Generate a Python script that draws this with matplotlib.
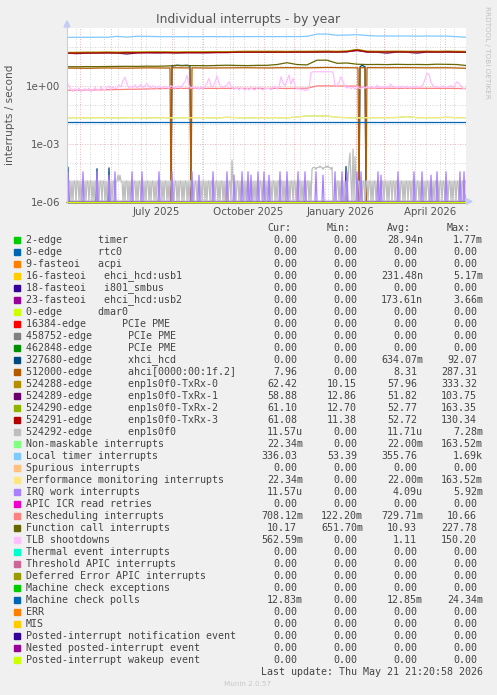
import numpy as np
import matplotlib
matplotlib.use("Agg")
import matplotlib.pyplot as plt
from matplotlib.patches import Polygon, Rectangle
from matplotlib.lines import Line2D
from matplotlib.ticker import NullLocator

W, H = 497, 695
start = np.datetime64("2025-04-18")
ndays = 400

# ---------------- legend table ----------------
labels = [
    "2-edge      timer", "8-edge      rtc0", "9-fasteoi   acpi",
    "16-fasteoi   ehci_hcd:usb1", "18-fasteoi   i801_smbus",
    "23-fasteoi   ehci_hcd:usb2", "0-edge      dmar0",
    "16384-edge      PCIe PME", "458752-edge      PCIe PME",
    "462848-edge      PCIe PME", "327680-edge      xhci_hcd",
    "512000-edge      ahci[0000:00:1f.2]",
    "524288-edge      enp1s0f0-TxRx-0", "524289-edge      enp1s0f0-TxRx-1",
    "524290-edge      enp1s0f0-TxRx-2", "524291-edge      enp1s0f0-TxRx-3",
    "524292-edge      enp1s0f0", "Non-maskable interrupts",
    "Local timer interrupts", "Spurious interrupts",
    "Performance monitoring interrupts", "IRQ work interrupts",
    "APIC ICR read retries", "Rescheduling interrupts",
    "Function call interrupts", "TLB shootdowns",
    "Thermal event interrupts", "Threshold APIC interrupts",
    "Deferred Error APIC interrupts", "Machine check exceptions",
    "Machine check polls", "ERR", "MIS",
    "Posted-interrupt notification event", "Nested posted-interrupt event",
    "Posted-interrupt wakeup event",
]
colors = [
    "#00CC00", "#0066B3", "#FF8000", "#FFCC00", "#330099", "#990099",
    "#CCFF00", "#FF0000", "#808080", "#008F00", "#00487D", "#B35A00",
    "#B38F00", "#6B006B", "#8FB300", "#B30000", "#BEBEBE", "#80FF80",
    "#80C9FF", "#FFC080", "#FFE680", "#AA80FF", "#EE00CC", "#FF8080",
    "#666600", "#FFBFFF", "#00FFCC", "#CC6699", "#999900", "#00CC00",
    "#0066B3", "#FF8000", "#FFCC00", "#330099", "#990099", "#CCFF00",
]
cur = ["0.00", "0.00", "0.00", "0.00", "0.00", "0.00", "0.00", "0.00", "0.00",
       "0.00", "0.00", "7.96", "62.42", "58.88", "61.10", "61.08", "11.57u",
       "22.34m", "336.03", "0.00", "22.34m", "11.57u", "0.00", "708.12m",
       "10.17", "562.59m", "0.00", "0.00", "0.00", "0.00", "12.83m", "0.00",
       "0.00", "0.00", "0.00", "0.00"]
mins = ["0.00", "0.00", "0.00", "0.00", "0.00", "0.00", "0.00", "0.00", "0.00",
        "0.00", "0.00", "0.00", "10.15", "12.86", "12.70", "11.38", "0.00",
        "0.00", "53.39", "0.00", "0.00", "0.00", "0.00", "122.20m",
        "651.70m", "0.00", "0.00", "0.00", "0.00", "0.00", "0.00", "0.00",
        "0.00", "0.00", "0.00", "0.00"]
avgs = ["28.94n", "0.00", "0.00", "231.48n", "0.00", "173.61n", "0.00", "0.00",
        "0.00", "0.00", "634.07m", "8.31", "57.96", "51.82", "52.77", "52.72",
        "11.71u", "22.00m", "355.76", "0.00", "22.00m", "4.09u", "0.00",
        "729.71m", "10.93", "1.11", "0.00", "0.00", "0.00", "0.00", "12.85m",
        "0.00", "0.00", "0.00", "0.00", "0.00"]
maxs = ["1.77m", "0.00", "0.00", "5.17m", "0.00", "3.66m", "0.00", "0.00",
        "0.00", "0.00", "92.07", "287.31", "333.32", "103.75", "163.35",
        "130.34", "7.28m", "163.52m", "1.69k", "0.00", "163.52m", "5.92m",
        "0.00", "10.66", "227.78", "150.20", "0.00", "0.00", "0.00", "0.00",
        "24.34m", "0.00", "0.00", "0.00", "0.00", "0.00"]

# ---------------- series (day index since 2025-04-18) ----------------
coarse_days = np.arange(0, 401, 10)

local_timer = [322, 322, 322, 325, 322, 360, 330, 365, 360, 350,
               345, 345, 348, 345, 350, 348, 346, 350, 348, 352,
               350, 348, 352, 350, 360, 470, 475, 410, 420, 440,
               400, 375, 378, 372, 376, 370, 374, 372, 370, 345, 322]
txrx0 = [53, 54, 55, 55, 56, 55, 56, 56, 57, 57,
         57, 56, 57, 57, 58, 58, 58, 60, 61, 61,
         61, 61, 60, 61, 61, 62, 62, 61, 63, 76,
         62, 61, 61, 62, 61, 61, 62, 61, 62, 61, 60]
txrx1 = [48, 46, 49, 49, 50, 49, 44, 50, 51, 50,
         51, 50, 51, 51, 51, 52, 52, 54, 54, 54,
         54, 54, 54, 55, 54, 55, 56, 55, 57, 66,
         55, 54, 49, 55, 54, 49, 55, 54, 55, 54, 53]
txrx2 = [50, 51, 52, 51, 53, 51, 52, 53, 53, 54,
         53, 52, 54, 53, 53, 54, 55, 57, 56, 57,
         58, 56, 56, 58, 57, 57, 59, 57, 60, 72,
         59, 57, 58, 58, 57, 58, 59, 57, 59, 58, 57]
txrx3 = [49, 49, 50, 50, 51, 50, 51, 51, 52, 52,
         52, 51, 52, 52, 52, 53, 53, 55, 55, 55,
         56, 55, 55, 56, 56, 56, 57, 56, 58, 70,
         57, 56, 56, 57, 56, 56, 57, 56, 57, 56, 55]
func_call = [9.6, 9.6, 9.8, 9.7, 9.9, 10.0, 10.1, 10.0, 10.3, 10.2,
             10.5, 11.2, 11.0, 11.0, 10.8, 11.2, 11.5, 11.2, 11.0, 11.3,
             11.4, 12.5, 15.5, 12.5, 12.0, 21.0, 21.0, 14.5, 15.0, 13.0,
             12.5, 12.6, 12.4, 12.8, 12.5, 12.6, 12.4, 13.0, 12.8, 12.5, 11.0]
resched = [0.58, 0.58, 0.60, 0.60, 0.62, 0.63, 0.65, 0.66, 0.68, 0.70,
           0.72, 0.72, 0.73, 0.73, 0.73, 0.72, 0.73, 0.73, 0.72, 0.73,
           0.72, 0.73, 0.72, 0.73, 0.74, 0.98, 0.98, 0.97, 0.96, 0.95,
           0.76, 0.74, 0.74, 0.73, 0.73, 0.74, 0.73, 0.73, 0.73, 0.72, 0.70]
perfmon = [0.0215, 0.022, 0.0215, 0.022, 0.022, 0.0215, 0.022, 0.022, 0.0215, 0.022,
           0.022, 0.0215, 0.022, 0.022, 0.022, 0.0215, 0.023, 0.022, 0.0215, 0.022,
           0.022, 0.022, 0.0215, 0.024, 0.027, 0.027, 0.027, 0.023, 0.022, 0.0215,
           0.022, 0.022, 0.022, 0.0225, 0.025, 0.022, 0.022, 0.022, 0.023, 0.022, 0.022]
mcp_days = [0, 399]
mcp_vals = [0.0129, 0.0129]

ahci_days = [0, 20, 40, 60, 80, 100, 103, 104, 105, 115, 123, 124, 125, 140, 160,
             180, 200, 220, 240, 260, 280, 291, 292, 293, 298, 299, 300, 320,
             340, 360, 380, 399]
ahci_vals = [8.2, 8.0, 8.3, 8.1, 8.4, 8.2, 8.3, 0, 8.5, 8.4, 8.3, 0, 8.4, 8.2, 8.4,
             8.5, 8.3, 8.6, 8.4, 8.8, 8.5, 8.4, 0, 8.6, 8.5, 0, 8.6, 8.5,
             8.6, 8.4, 8.5, 8.0]
xhci_days = [0, 1, 2, 29, 30, 31, 41, 42, 43, 104, 105, 110, 115, 120, 123, 124,
             278, 279, 280, 292, 293, 295, 298, 299, 399]
xhci_vals = [0, 6e-5, 0, 0, 5e-5, 0, 0, 5.5e-5, 0, 0, 10.5, 11.5, 11.0, 11.5, 10.5, 0,
             0, 6.5e-5, 0, 0, 9.5, 11.5, 9.5, 0, 0]

tlb_days = np.arange(0, 400, 2)
tlb = [1.5, 0.9, 0.6, 0.5, 0.7, 0.55, 0.75, 0.5, 0.6, 0.7,
       0.55, 0.75, 0.5, 0.6, 0.8, 0.6, 0.55, 0.85, 0.65, 0.6,
       0.8, 0.95, 0.65, 0.85, 0.7, 0.75, 1.1, 0.85, 1.8, 2.8,
       1.2, 0.75, 0.95, 0.8, 1.1, 0.75, 0.95, 1.2, 0.8, 0.95,
       1.3, 0.85, 0.75, 1.0, 0.8, 0.75, 0.95, 0.8, 0.75, 0.95,
       0.8, 0.75, 1.0, 0.85, 0.75, 0.9, 0.95, 0.75, 1.2, 1.6,
       3.4, 1.0, 0.75, 0.9, 0.7, 0.85, 0.65, 0.85, 0.7, 0.9,
       1.4, 2.4, 1.0, 0.85, 1.5, 3.2, 1.3, 0.85, 0.8, 0.95,
       1.1, 1.6, 0.85, 0.75, 0.65, 0.8, 0.6, 0.75, 0.7, 0.6,
       0.75, 0.6, 0.8, 0.65, 0.6, 0.75, 0.85, 0.65, 0.6, 0.75,
       0.7, 0.75, 0.6, 0.85, 0.95, 0.65, 0.9, 2.9, 1.4, 1.0,
       1.8, 3.6, 1.2, 2.4, 1.0, 0.65, 0.7, 0.6, 0.65, 0.55,
       0.6, 0.7, 4.8, 5.3, 5.3, 5.3, 5.3, 5.3, 5.3, 5.3,
       5.3, 5.3, 5.3, 5.0, 1.1, 1.0, 1.5, 2.9, 1.6, 0.9,
       0.75, 0.9, 0.7, 0.85, 0.65, 0.9, 0.75, 0.7, 0.95, 0.75,
       0.9, 0.75, 0.95, 0.8, 0.75, 1.05, 0.85, 0.9, 0.75, 0.95,
       0.8, 0.95, 1.2, 0.85, 0.9, 0.75, 0.95, 0.8, 0.95, 0.75,
       0.95, 0.8, 0.75, 0.95, 0.8, 0.95, 0.8, 0.95, 1.1, 2.2,
       4.4, 4.0, 1.5, 1.0, 0.85, 0.9, 0.8, 0.9, 1.0, 0.85,
       0.8, 0.95, 1.0, 0.8, 1.2, 1.6, 1.3, 0.95, 0.7, 0.75]

# enp1s0f0: interrupts per day, one digit per day
enp_rows = [
    "1011010110" "1101011010" "1101101011" "0101101101",
    "0110101101" "1010110101" "1010110110" "1011011010",
    "1101011010" "1101101011" "0101101011" "0101101011",
    "0101101011" "0110101101" "0110110101" "1010110101",
    "1011011010" "1101011010" "1101101010" "1101101101",
    "0110101101" "0110110101" "1010110110" "1011010110",
    "11010" "4555455565" "5455656554" "5" "0000" "1101011010",
    "1101101011" "0110101101" "1011010110" "1101011011",
    "0101101101" "1010110101" "1011011010" "1101011010",
    "1101101011" "0101101101" "1011010110" "1101011011",
]
enp_big = {51: 2, 53: 2, 165: 12, 282: 9, 283: 28, 286: 45, 288: 18}

irq_days = [1, 16, 30, 42, 48, 65, 75, 92, 105, 125, 132, 146, 160, 167, 175,
            181, 184, 191, 197, 202, 213, 220, 231, 238, 249, 256, 268, 275,
            280, 290, 294, 311, 314, 331, 347, 355, 364, 370, 379, 393, 397]
irq_counts = [3, 3, 3, 2, 3, 3, 3, 3, 3, 3, 2, 3, 3, 2, 3, 3, 2, 3, 3, 2, 3,
              3, 3, 3, 3, 2, 3, 3, 3, 3, 3, 3, 2, 3, 3, 3, 2, 3, 3, 3, 3]
usb1_days = [160, 371, 398]
usb1_vals = [1.16e-5, 2.3e-6, 2.3e-6]

# build daily arrays from the per-day records
daily = np.arange(ndays)
enp = np.array([int(c) for c in "".join(enp_rows)], float)
for d, c in enp_big.items():
    enp[d] = c
enp = enp / 86400.0
irq = np.zeros(ndays)
irq[irq_days] = np.array(irq_counts) / 86400.0
usb1 = np.zeros(ndays)
usb1[usb1_days] = usb1_vals

series = {
    3: (daily, usb1),
    10: (xhci_days, xhci_vals),
    11: (ahci_days, ahci_vals),
    12: (coarse_days, txrx0),
    13: (coarse_days, txrx1),
    14: (coarse_days, txrx2),
    15: (coarse_days, txrx3),
    16: (daily, enp),
    17: (coarse_days, perfmon),
    18: (coarse_days, local_timer),
    20: (coarse_days, perfmon),
    21: (daily, irq),
    23: (coarse_days, resched),
    24: (coarse_days, func_call),
    25: (tlb_days, tlb),
    30: (mcp_days, mcp_vals),
}

# ---------------- figure ----------------
def fx(x):
    return x / W


def fy(y):
    return 1 - y / H


fig = plt.figure(figsize=(W / 100, H / 100), dpi=100, facecolor="#F0F0F0")
ax = fig.add_axes([fx(67), fy(201.5), 399 / W, 173.7 / H])
ax.set_facecolor("white")
ax.set_yscale("log")
ymin, ymax = 1e-6, 1e3
ax.set_ylim(ymin, ymax)
ax.set_xlim(0, 399)
for s in ax.spines.values():
    s.set_visible(False)

# grid
minor_c, major_c = "#C8C8C8", "#E8A0A0"
dots = (0, (1, 2))
for k in range(-6, 3):
    c = major_c if k % 3 == 0 else minor_c
    ax.axhline(10.0 ** k, color=c, ls=dots, lw=0.6, zorder=0.5)


def day_of(s):
    return int((np.datetime64(s) - start).astype(int))


for d in np.arange(day_of("2025-04-27"), ndays, 14):
    ax.axvline(d, color=minor_c, ls=dots, lw=0.6, zorder=0.5)
month_starts = ["2025-05-01", "2025-06-01", "2025-07-01", "2025-08-01",
                "2025-09-01", "2025-10-01", "2025-11-01", "2025-12-01",
                "2026-01-01", "2026-02-01", "2026-03-01", "2026-04-01",
                "2026-05-01"]
for m in month_starts:
    ax.axvline(day_of(m), color=major_c, ls=dots, lw=0.6, zorder=0.6)

# data lines, in legend order
for i, col in enumerate(colors):
    if i in series:
        xs, ys = series[i]
        ax.plot(xs, np.maximum(np.asarray(ys, float), ymin), color=col,
                lw=0.9, zorder=2 + i * 0.01, clip_on=True)
    else:
        ax.plot([0, 399], [ymin, ymin], color=col, lw=0.8, zorder=2 + i * 0.01,
                clip_on=False)

# ticks
ax.yaxis.set_minor_locator(NullLocator())
ax.set_yticks([1e-6, 1e-3, 1e0])
ax.set_yticklabels(["1e-06", "1e-03", "1e+00"])
ax.tick_params(axis="y", length=0, pad=5, labelsize=7.4, labelcolor="#555555")
xlab = ["July 2025", "October 2025", "January 2026", "April 2026"]
xlab_dates = ["2025-07-16", "2025-10-16", "2026-01-16", "2026-04-16"]
ax.set_xticks([day_of(d) for d in xlab_dates])
ax.set_xticklabels(xlab)
ax.tick_params(axis="x", length=0, pad=4, labelsize=7.4, labelcolor="#555555")

# axis lines with arrows
axc = "#C4CCF4"
fig.add_artist(Line2D([fx(67), fx(67)], [fy(203), fy(26)], color=axc, lw=0.8))
fig.add_artist(Line2D([fx(466), fx(468)], [fy(201.5), fy(201.5)], color=axc, lw=0.8))
fig.add_artist(Polygon([(fx(67), fy(21)), (fx(64), fy(27)), (fx(70), fy(27))],
                       closed=True, color=axc, transform=fig.transFigure))
fig.add_artist(Polygon([(fx(472), fy(201.5)), (fx(466), fy(198.5)), (fx(466), fy(204.5))],
                       closed=True, color=axc, transform=fig.transFigure))

# texts
tc = "#555555"
fig.text(fx(248), fy(20), "Individual interrupts - by year", ha="center",
         va="center", fontsize=8.9, color=tc)
fig.text(fx(10), fy(114.5), "interrupts / second", rotation=90, ha="center",
         va="center", fontsize=7.6, color=tc)
fig.text(fx(487), fy(52), "RRDTOOL / TOBI OETIKER", rotation=270, ha="center",
         va="center", fontsize=5.2, color="#C0C0C0")

mono = "DejaVu Sans Mono"
lc = "#444444"
fs = 7.2
col_edges = [303, 363, 423, 483]
for edge, head in zip(col_edges, ["Cur:", "Min:", "Avg:", "Max:"]):
    fig.text(fx(edge - 12), fy(227.7), head, ha="right", va="center",
             family=mono, fontsize=fs, color=lc)

for i, lab in enumerate(labels):
    y = 240 + 12 * i
    fig.add_artist(Rectangle((fx(14), fy(y + 3)), 6 / W, 6 / H, color=colors[i],
                             transform=fig.transFigure))
    fig.text(fx(26), fy(y), lab, ha="left", va="center", family=mono,
             fontsize=fs, color=lc)
    for edge, v in zip(col_edges, [cur[i], mins[i], avgs[i], maxs[i]]):
        off = 0 if v[-1].isalpha() else 6
        fig.text(fx(edge - off), fy(y), v, ha="right", va="center",
                 family=mono, fontsize=fs, color=lc)

fig.text(fx(483), fy(671.7), "Last update: Thu May 21 21:20:58 2026",
         ha="right", va="center", family=mono, fontsize=fs, color=lc)
fig.text(fx(248), fy(684), "Munin 2.0.57", ha="center", va="center",
         fontsize=5.2, color="#C8C8C8")

fig.savefig("out.png", dpi=100, facecolor=fig.get_facecolor())
